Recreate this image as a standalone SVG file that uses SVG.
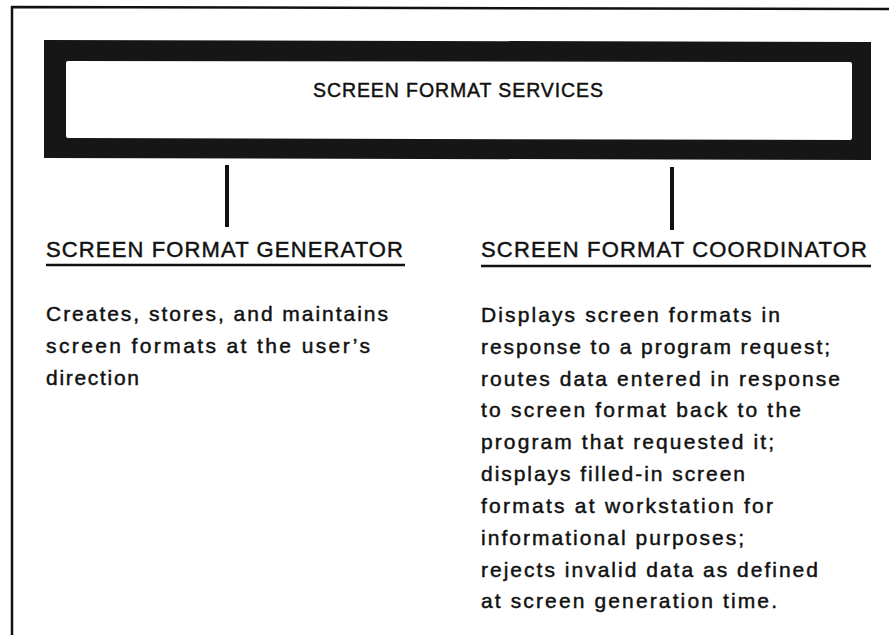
<svg xmlns="http://www.w3.org/2000/svg" width="889" height="635" viewBox="0 0 889 635">
<style>
.t{font-family:"Liberation Sans",Arial,sans-serif;fill:#111;stroke:#111;stroke-width:0.45px;}
.h{font-size:22px;}
.b{font-size:21px;}
.ttl{font-size:19.5px;}
.ln{stroke:#111;fill:none;}
</style>
<rect width="889" height="635" fill="#fff"/>
<g id="frame">
<path class="ln" d="M12,635 V7 L889,9" stroke-width="2.5"/>
</g>
<g id="services">
<path d="M44,40 L871,42 L871,160 L44,158 Z M68,61 Q66,61 66,63 V136 Q66,138 68,138 L850,140 Q852,140 852,138 V64 Q852,62 850,62 Z" fill="#161616" fill-rule="evenodd"/>
<text class="t ttl" x="458" y="97" text-anchor="middle" textLength="290" lengthAdjust="spacing">SCREEN FORMAT SERVICES</text>
</g>
<g id="connectors">
<line class="ln" x1="227" y1="165" x2="227" y2="227" stroke-width="4"/>
<line class="ln" x1="672" y1="167" x2="672" y2="230" stroke-width="4"/>
</g>
<g id="generator">
<text class="t h" x="46" y="257" textLength="357" lengthAdjust="spacing">SCREEN FORMAT GENERATOR</text>
<line class="ln" x1="46" y1="265" x2="405" y2="265" stroke-width="2.5"/>
<text class="t b" x="46" y="321" textLength="342" lengthAdjust="spacing">Creates, stores, and maintains</text>
<text class="t b" x="46" y="353" textLength="324" lengthAdjust="spacing">screen formats at the user’s</text>
<text class="t b" x="46" y="385" textLength="93" lengthAdjust="spacing">direction</text>
</g>
<g id="coordinator">
<text class="t h" x="481" y="257" textLength="386" lengthAdjust="spacing">SCREEN FORMAT COORDINATOR</text>
<line class="ln" x1="481" y1="266" x2="871" y2="266" stroke-width="2.5"/>
<text class="t b" x="481" y="322" textLength="299" lengthAdjust="spacing">Displays screen formats in</text>
<text class="t b" x="481" y="354" textLength="349" lengthAdjust="spacing">response to a program request;</text>
<text class="t b" x="481" y="386" textLength="359" lengthAdjust="spacing">routes data entered in response</text>
<text class="t b" x="481" y="417" textLength="320" lengthAdjust="spacing">to screen format back to the</text>
<text class="t b" x="481" y="449" textLength="293" lengthAdjust="spacing">program that requested it;</text>
<text class="t b" x="481" y="481" textLength="264" lengthAdjust="spacing">displays filled-in screen</text>
<text class="t b" x="481" y="513" textLength="292" lengthAdjust="spacing">formats at workstation for</text>
<text class="t b" x="481" y="545" textLength="263" lengthAdjust="spacing">informational purposes;</text>
<text class="t b" x="481" y="577" textLength="337" lengthAdjust="spacing">rejects invalid data as defined</text>
<text class="t b" x="481" y="608" textLength="296" lengthAdjust="spacing">at screen generation time.</text>
</g>
</svg>
